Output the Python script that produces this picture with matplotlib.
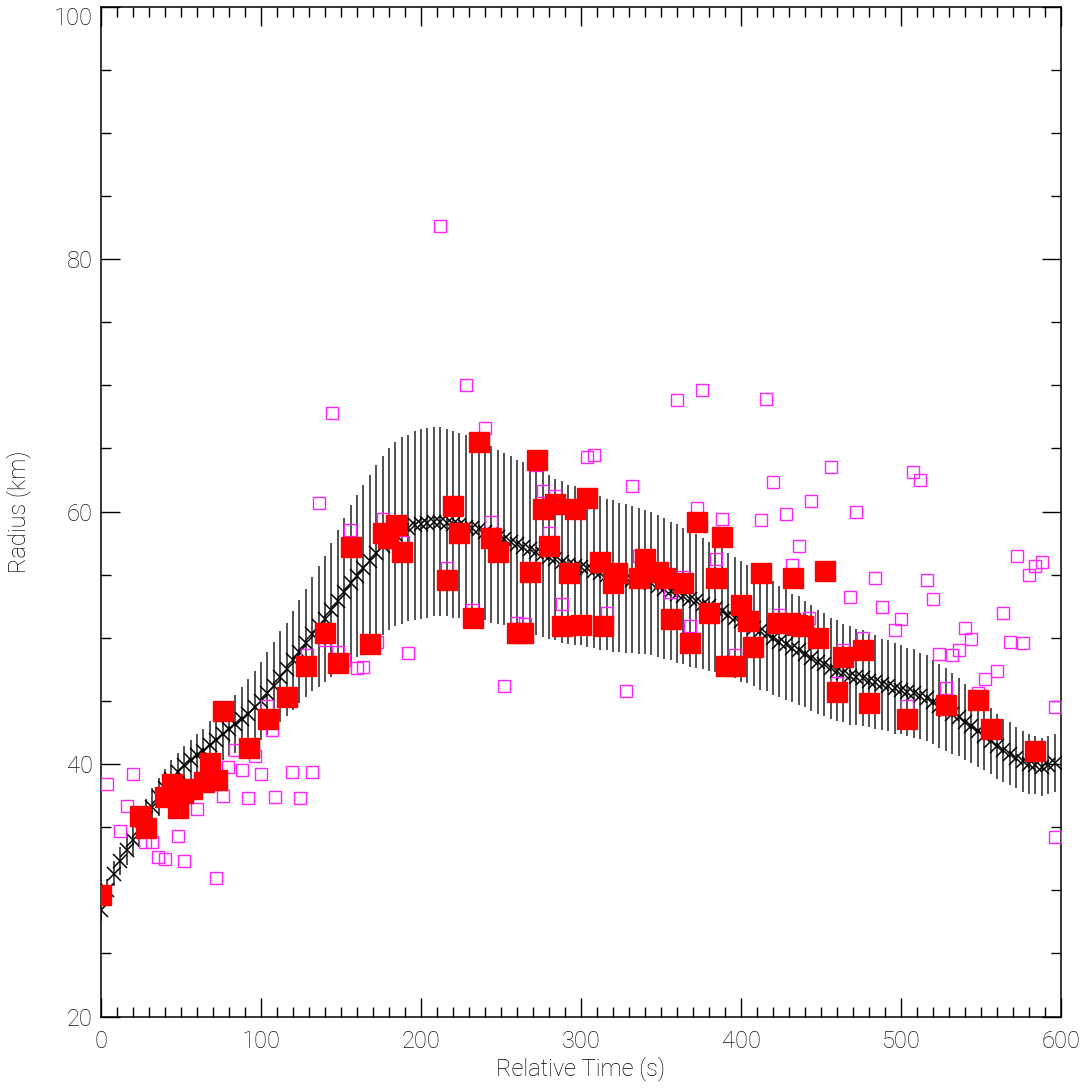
import matplotlib
matplotlib.use('Agg')
import matplotlib.pyplot as plt
import numpy as np
from matplotlib.ticker import MultipleLocator

# model curve (every 4 s) with its 1-sigma spread
model_t = np.arange(0, 600, 4)
model_r = [
    28.4, 30.0, 31.3, 32.3, 33.2, 34.0, 34.8, 35.7, 36.6, 37.4,
    38.1, 38.8, 39.4, 39.9, 40.3, 40.7, 41.0, 41.5, 41.9, 42.4,
    42.8, 43.2, 43.6, 44.0, 44.5, 45.0, 45.6, 46.2, 46.9, 47.5,
    48.2, 48.9, 49.6, 50.3, 50.9, 51.5, 52.2, 52.9, 53.6, 54.3,
    54.9, 55.5, 56.1, 56.7, 57.3, 57.8, 58.2, 58.5, 58.7, 58.9,
    59.0, 59.1, 59.2, 59.2, 59.1, 59.0, 58.9, 58.8, 58.7, 58.6,
    58.4, 58.2, 58.0, 57.8, 57.6, 57.4, 57.2, 57.0, 56.8, 56.6,
    56.4, 56.2, 56.0, 55.8, 55.7, 55.6, 55.5, 55.3, 55.1, 55.0,
    54.9, 54.8, 54.7, 54.6, 54.5, 54.4, 54.3, 54.1, 53.9, 53.7,
    53.5, 53.3, 53.1, 52.9, 52.7, 52.5, 52.3, 52.1, 51.8, 51.6,
    51.3, 51.1, 50.8, 50.5, 50.3, 50.0, 49.7, 49.5, 49.2, 49.0,
    48.7, 48.4, 48.1, 47.9, 47.6, 47.4, 47.2, 47.0, 46.9, 46.8,
    46.6, 46.5, 46.3, 46.2, 46.0, 45.9, 45.7, 45.6, 45.4, 45.2,
    44.9, 44.6, 44.3, 44.0, 43.7, 43.3, 43.0, 42.6, 42.2, 41.8,
    41.4, 41.1, 40.8, 40.5, 40.2, 40.0, 39.9, 39.8, 39.9, 40.1,
]
model_err = [
    0.8, 0.9, 1.0, 1.1, 1.2, 1.3, 1.4, 1.5, 1.5, 1.5,
    1.5, 1.5, 1.5, 1.5, 1.6, 1.7, 1.8, 1.9, 2.0, 2.1,
    2.2, 2.3, 2.5, 2.7, 2.9, 3.1, 3.3, 3.5, 3.6, 3.7,
    3.9, 4.1, 4.3, 4.5, 4.8, 5.0, 5.3, 5.6, 5.9, 6.2,
    6.4, 6.6, 6.8, 7.0, 7.1, 7.2, 7.3, 7.4, 7.4, 7.5,
    7.5, 7.5, 7.5, 7.5, 7.4, 7.4, 7.3, 7.3, 7.2, 7.1,
    7.0, 7.0, 6.9, 6.8, 6.8, 6.7, 6.7, 6.6, 6.6, 6.5,
    6.5, 6.4, 6.4, 6.3, 6.3, 6.2, 6.2, 6.1, 6.1, 6.0,
    6.0, 5.9, 5.9, 5.8, 5.8, 5.7, 5.7, 5.6, 5.6, 5.5,
    5.5, 5.4, 5.4, 5.3, 5.2, 5.1, 5.0, 5.0, 4.9, 4.8,
    4.8, 4.7, 4.6, 4.6, 4.5, 4.5, 4.4, 4.4, 4.3, 4.3,
    4.2, 4.2, 4.1, 4.1, 4.0, 4.0, 3.9, 3.9, 3.8, 3.8,
    3.7, 3.7, 3.6, 3.6, 3.6, 3.5, 3.5, 3.5, 3.4, 3.4,
    3.3, 3.3, 3.3, 3.2, 3.1, 3.0, 2.9, 2.8, 2.7, 2.6,
    2.6, 2.5, 2.5, 2.4, 2.4, 2.4, 2.3, 2.3, 2.3, 2.3,
]

# raw measurements (open magenta squares)
raw_t = [3.75, 20, 16.3, 11.9, 27.5, 31.9, 35.6, 40, 51.9, 48.1,
         60, 71.9, 76.3, 79.4, 83.8, 88.1, 96.3, 100, 91.9, 106.9,
         108.8, 104, 119.4, 131.9, 124.4, 136, 144.4, 155.6, 176, 189,
         140, 148, 152, 160, 164, 172.5, 192, 129, 212, 228,
         240, 272.5, 304, 308, 244, 276, 284, 280, 216, 232,
         288, 260, 265, 252, 316, 332, 328, 372.5, 388, 412.5,
         420, 384.4, 336, 364, 368, 396, 355.6, 360, 375.6, 415.6,
         456, 444, 428, 472, 436, 432, 507.5, 511.9, 484, 468,
         488, 500, 496, 424, 442.5, 476, 464, 460, 503.75, 572.5,
         584, 588, 580, 516, 520, 564, 540, 544, 568, 576,
         524, 532, 536, 560, 552.5, 528, 548, 596, 596]
raw_r = [38.4, 39.2, 36.7, 34.7, 33.8, 33.8, 32.6, 32.5, 32.3, 34.3,
         36.4, 31.0, 37.5, 39.8, 41.1, 39.5, 40.6, 39.2, 37.3, 42.7,
         37.4, 44.6, 39.4, 39.4, 37.3, 60.7, 67.8, 58.5, 59.4, 57.6,
         49.8, 48.9, 48.2, 47.6, 47.7, 49.7, 48.8, 48.6, 82.6, 70.0,
         66.6, 63.7, 64.3, 64.5, 59.2, 61.6, 61.2, 58.3, 55.5, 52.2,
         52.7, 51.2, 51.1, 46.2, 52.0, 62.0, 45.8, 60.3, 59.4, 59.3,
         62.3, 56.2, 56.5, 54.8, 50.9, 48.6, 53.6, 68.8, 69.6, 68.9,
         63.5, 60.8, 59.8, 60.0, 57.3, 55.8, 63.1, 62.5, 54.7, 53.2,
         52.4, 51.5, 50.6, 51.8, 51.6, 50.0, 49.0, 46.4, 44.6, 56.5,
         55.7, 56.0, 55.0, 54.6, 53.1, 52.0, 50.8, 49.9, 49.7, 49.6,
         48.7, 48.6, 49.0, 47.4, 46.7, 46.0, 45.6, 44.5, 34.2]

# selected measurements (filled red squares)
sel_t = [0, 24.4, 28.1, 40, 44.4, 48.1, 51.3, 56.9, 64.4, 68.1,
         72.5, 76.3, 92.5, 104.4, 116, 128, 140, 148, 156, 168,
         176, 179.4, 184.4, 188.1, 216, 220, 224, 232.5, 236, 244,
         248, 260, 264, 268, 272.5, 276, 280, 284, 288, 292.5,
         296, 300, 304, 312, 314, 320, 322.5, 336, 340, 348,
         352.5, 356, 364, 368, 372.5, 380, 384.4, 388, 390.6, 396,
         400, 404.4, 407.5, 412.5, 422.5, 430.6, 432.5, 435, 439, 448,
         452.5, 460, 464, 476, 480, 504, 528, 548, 556, 584]
sel_r = [29.6, 35.9, 34.9, 37.4, 38.4, 36.5, 37.7, 38.0, 38.6, 40.1,
         38.7, 44.2, 41.3, 43.6, 45.3, 47.8, 50.4, 48.0, 57.2, 49.5,
         58.3, 57.9, 58.9, 56.8, 54.6, 60.4, 58.3, 51.6, 65.5, 57.9,
         56.8, 50.4, 50.4, 55.2, 64.1, 60.2, 57.3, 60.6, 50.9, 55.1,
         60.2, 51.0, 61.1, 56.0, 50.9, 54.3, 55.1, 54.7, 56.2, 55.2,
         54.7, 51.5, 54.3, 49.6, 59.2, 52.0, 54.7, 58.0, 47.8, 47.8,
         52.6, 51.3, 49.3, 55.1, 51.2, 51.2, 54.7, 51.0, 50.9, 50.0,
         55.3, 45.7, 48.5, 49.0, 44.8, 43.6, 44.7, 45.1, 42.8, 41.0]

plt.rcParams['font.family'] = ['Roboto', 'DejaVu Sans']
plt.rcParams['font.weight'] = 'light'
plt.rcParams['axes.labelweight'] = 'light'
fs = 17

fig = plt.figure(figsize=(10.88, 10.88), dpi=100)
ax = fig.add_axes([0.0928, 0.0657, 0.8824, 0.9283])

ax.errorbar(model_t, model_r, yerr=model_err, fmt='none', ecolor='#222222',
            elinewidth=1.1, capsize=0, zorder=1)
ax.plot(model_t, model_r, 'x', color='black', markersize=10.5, markeredgewidth=1.1, zorder=2)
ax.plot(raw_t, raw_r, 's', markerfacecolor='none', markeredgecolor='#ff22ff',
        markersize=8.5, markeredgewidth=1.0, zorder=3)
ax.plot(sel_t, sel_r, 's', color='#ff0000', markersize=14.5, zorder=4)

ax.set_xlim(0, 600)
ax.set_ylim(20, 100)
ax.xaxis.set_major_locator(MultipleLocator(100))
ax.xaxis.set_minor_locator(MultipleLocator(10))
ax.set_yticks([20, 40, 60, 80, 100])
ax.yaxis.set_minor_locator(MultipleLocator(5))
ax.tick_params(which='both', direction='in', top=True, right=True, width=1.0,
               labelsize=fs, labelcolor='#111111')
ax.tick_params(which='major', length=14)
ax.tick_params(which='minor', length=7)
ax.tick_params(axis='x', pad=10)
ax.tick_params(axis='y', pad=6)
for s in ax.spines.values():
    s.set_linewidth(1.1)

# the top label sits just below the frame, as in the original
ylabels = ax.get_yticklabels()
ylabels[-1].set_verticalalignment('top')

ax.set_xlabel('Relative Time (s)', fontsize=fs, labelpad=2)
ax.set_ylabel('Radius (km)', fontsize=fs, labelpad=16)

fig.savefig('out.png', dpi=100)
